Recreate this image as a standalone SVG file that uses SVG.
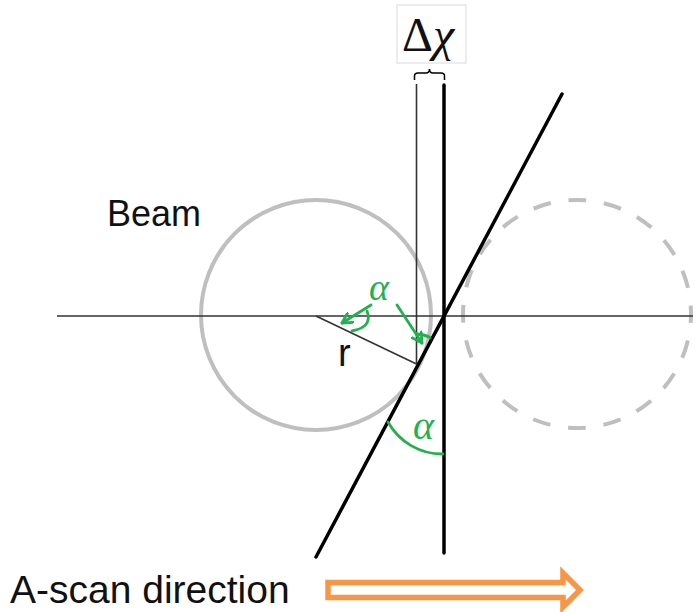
<svg xmlns="http://www.w3.org/2000/svg" width="700" height="612" viewBox="0 0 700 612">
<style>
.beam{fill:none;stroke:#bfbfbf;stroke-width:4}
.thin{stroke:#333;stroke-width:1.6;fill:none}
.thick{stroke:#000;stroke-width:3.5;fill:none;stroke-linecap:round}
.green{stroke:#23b04f;stroke-width:2.8;fill:none;stroke-linecap:round}
.lbl{font-family:"Liberation Sans",Arial,sans-serif;fill:#111}
.alpha{font-family:"Liberation Serif","DejaVu Serif",serif;font-style:italic;fill:#23b04f}
</style>
<defs>
<marker id="vhead" viewBox="0 0 12 12" refX="10" refY="6" markerWidth="13" markerHeight="13" markerUnits="userSpaceOnUse" orient="auto">
<path d="M1,1 L10,6 L1,11" fill="none" stroke="#23b04f" stroke-width="2.6" stroke-linecap="round" stroke-linejoin="round"/>
</marker>
</defs>
<rect width="700" height="612" fill="#fff"/>
<g id="beam-current">
<circle class="beam" cx="316" cy="315" r="115"/>
</g>
<g id="beam-next">
<circle class="beam" cx="577" cy="314" r="114" stroke-width="4.5" stroke-dasharray="18 17.8" stroke-dashoffset="9"/>
</g>
<g id="connectors">
<line class="thin" x1="57" y1="316" x2="693" y2="316"/>
<line class="thin" x1="416.5" y1="84" x2="416.5" y2="364"/>
<line class="thin" x1="316" y1="316" x2="416.5" y2="364"/>
<line class="thick" x1="444" y1="85" x2="444" y2="553"/>
<line class="thick" x1="316" y1="557" x2="562" y2="94"/>
</g>
<g id="delta-chi">
<rect x="397" y="5" width="69" height="58" fill="#fff" stroke="#d9d9d9" stroke-width="1"/>
<text x="402" y="51" font-family="Liberation Serif,DejaVu Serif,serif" font-size="48" fill="#111">Δ<tspan font-style="italic">χ</tspan></text>
<path d="M414.5,80 L414.5,76 Q414.5,73 418,73 L426,73 Q429.5,73 429.5,69 Q429.5,73 433,73 L441,73 Q444.5,73 444.5,76 L444.5,80" fill="none" stroke="#000" stroke-width="1.5"/>
</g>
<g id="label-beam"><text class="lbl" x="107" y="226" font-size="36">Beam</text></g>
<g id="label-r"><text class="lbl" x="338" y="366" font-size="38">r</text></g>
<g id="alpha-upper">
<text class="alpha" x="369" y="300" font-size="38">α</text>
<line class="green" x1="371" y1="305" x2="342" y2="323" marker-end="url(#vhead)"/>
<path class="green" d="M367,311 Q373,327 352,331"/>
<line class="green" x1="397" y1="305" x2="422" y2="343" marker-end="url(#vhead)"/>
<path class="green" d="M416.5,334 A30,30 0 0 1 430,337.5"/>
</g>
<g id="alpha-lower">
<text class="alpha" x="413" y="439" font-size="40">α</text>
<path class="green" d="M388,422 A62,62 0 0 0 443,454"/>
</g>
<g id="scan-direction">
<text class="lbl" x="10" y="603" font-size="39">A-scan direction</text>
<path d="M328,582.5 L563,582.5 L563,573 L580,590 L563,607 L563,597.5 L328,597.5 Z" fill="#fff" stroke="#f79646" stroke-width="5.5" stroke-linejoin="miter"/>
</g>
</svg>
